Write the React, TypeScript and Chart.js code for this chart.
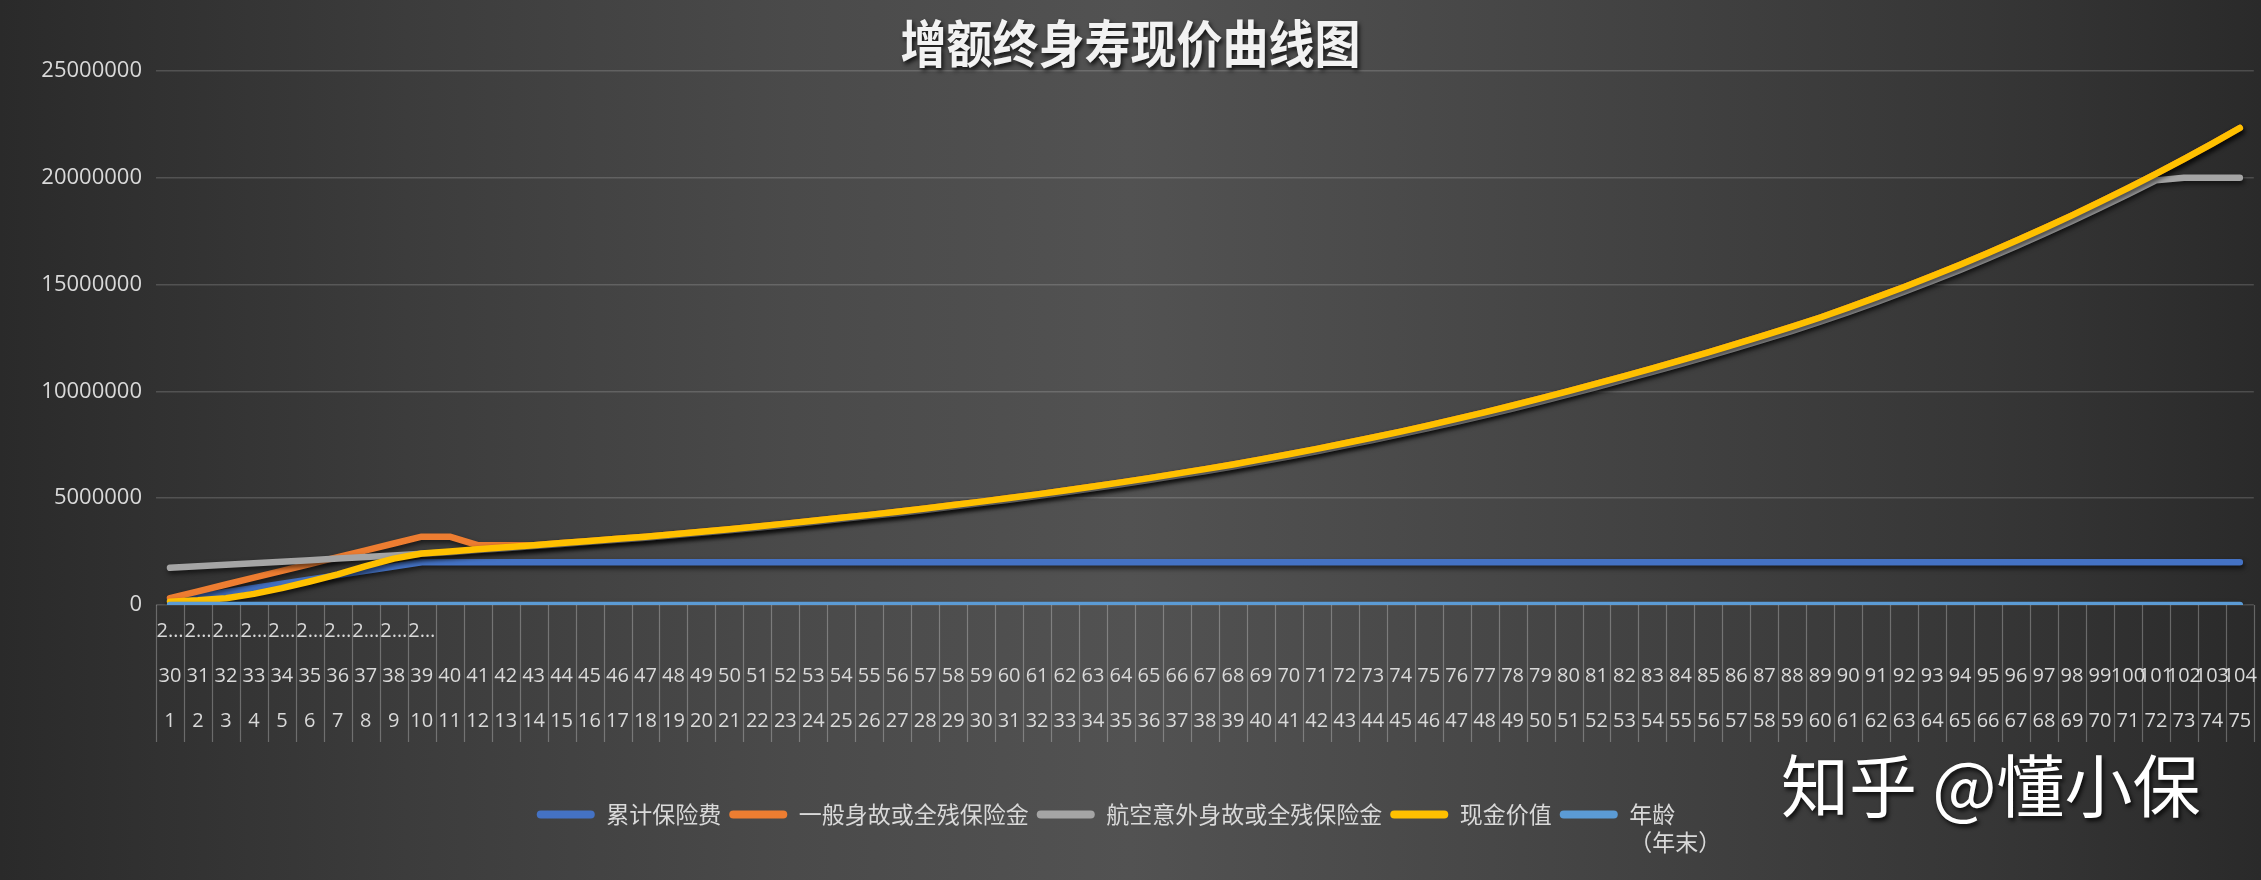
import React, { useEffect, useRef } from "react";
import { Chart, registerables } from "chart.js";

Chart.register(...registerables);

const chartTitle = "增额终身寿现价曲线图";
const watermark = "知乎 @懂小保";

const seriesNames = ["累计保险费", "一般身故或全残保险金", "航空意外身故或全残保险金", "现金价值", "年龄（年末）"];
const seriesColors = ["#4472C4", "#ED7D31", "#A5A5A5", "#FFC000", "#5B9BD5"];
const lastLegendFirstLine = "年龄";
const lastLegendSecondLine = "（年末）";

const dateLabels = ["2…", "2…", "2…", "2…", "2…", "2…", "2…", "2…", "2…", "2…"];

const policyYears = [
  1, 2, 3, 4, 5, 6, 7, 8, 9, 10, 11, 12, 13, 14, 15, 16, 17, 18, 19, 20, 21, 22, 23, 24, 25,
  26, 27, 28, 29, 30, 31, 32, 33, 34, 35, 36, 37, 38, 39, 40, 41, 42, 43, 44, 45, 46, 47, 48, 49, 50,
  51, 52, 53, 54, 55, 56, 57, 58, 59, 60, 61, 62, 63, 64, 65, 66, 67, 68, 69, 70, 71, 72, 73, 74, 75,
];

const ages = [
  30, 31, 32, 33, 34, 35, 36, 37, 38, 39, 40, 41, 42, 43, 44, 45, 46, 47, 48, 49, 50, 51, 52, 53, 54,
  55, 56, 57, 58, 59, 60, 61, 62, 63, 64, 65, 66, 67, 68, 69, 70, 71, 72, 73, 74, 75, 76, 77, 78, 79,
  80, 81, 82, 83, 84, 85, 86, 87, 88, 89, 90, 91, 92, 93, 94, 95, 96, 97, 98, 99, 100, 101, 102, 103, 104,
];

const premiumPaid = [
  200000, 400000, 600000, 800000, 1000000, 1200000, 1400000, 1600000, 1800000, 2000000,
  2000000, 2000000, 2000000, 2000000, 2000000, 2000000, 2000000, 2000000, 2000000, 2000000,
  2000000, 2000000, 2000000, 2000000, 2000000, 2000000, 2000000, 2000000, 2000000, 2000000,
  2000000, 2000000, 2000000, 2000000, 2000000, 2000000, 2000000, 2000000, 2000000, 2000000,
  2000000, 2000000, 2000000, 2000000, 2000000, 2000000, 2000000, 2000000, 2000000, 2000000,
  2000000, 2000000, 2000000, 2000000, 2000000, 2000000, 2000000, 2000000, 2000000, 2000000,
  2000000, 2000000, 2000000, 2000000, 2000000, 2000000, 2000000, 2000000, 2000000, 2000000,
  2000000, 2000000, 2000000, 2000000, 2000000,
];

const deathBenefit = [
  320000, 640000, 960000, 1280000, 1600000, 1920000, 2240000, 2560000, 2880000, 3200000,
  3200000, 2800000, 2800000, 2800000, 2900000, 3000000, 3100000, 3200000, 3310000, 3430000,
  3550000, 3680000, 3810000, 3940000, 4080000, 4220000, 4370000, 4520000, 4680000, 4840000,
  5010000, 5180000, 5360000, 5550000, 5740000, 5940000, 6150000, 6360000, 6580000, 6820000,
  7060000, 7310000, 7570000, 7840000, 8120000, 8410000, 8710000, 9020000, 9340000, 9670000,
  10010000, 10360000, 10720000, 11080000, 11450000, 11830000, 12220000, 12620000, 13030000, 13460000,
  13920000, 14400000, 14890000, 15400000, 15930000, 16480000, 17050000, 17640000, 18240000, 18870000,
  19520000, 20180000, 20870000, 21590000, 22330000,
];

const airAccidentBenefit = [
  1740000, 1810000, 1880000, 1960000, 2030000, 2100000, 2180000, 2250000, 2320000, 2400000,
  2470000, 2570000, 2660000, 2760000, 2860000, 2960000, 3050000, 3150000, 3260000, 3380000,
  3500000, 3620000, 3750000, 3880000, 4020000, 4160000, 4300000, 4450000, 4610000, 4770000,
  4930000, 5100000, 5280000, 5470000, 5650000, 5850000, 6060000, 6260000, 6480000, 6720000,
  6950000, 7200000, 7460000, 7720000, 8000000, 8280000, 8580000, 8880000, 9200000, 9520000,
  9860000, 10200000, 10560000, 10910000, 11280000, 11650000, 12040000, 12430000, 12830000, 13260000,
  13710000, 14180000, 14670000, 15170000, 15690000, 16230000, 16790000, 17380000, 17970000, 18590000,
  19230000, 19880000, 20000000, 20000000, 20000000,
];

const cashValue = [
  150000, 220000, 320000, 520000, 790000, 1100000, 1430000, 1820000, 2170000, 2410000,
  2510000, 2610000, 2700000, 2800000, 2900000, 3000000, 3100000, 3200000, 3310000, 3430000,
  3550000, 3680000, 3810000, 3940000, 4080000, 4220000, 4370000, 4520000, 4680000, 4840000,
  5010000, 5180000, 5360000, 5550000, 5740000, 5940000, 6150000, 6360000, 6580000, 6820000,
  7060000, 7310000, 7570000, 7840000, 8120000, 8410000, 8710000, 9020000, 9340000, 9670000,
  10010000, 10360000, 10720000, 11080000, 11450000, 11830000, 12220000, 12620000, 13030000, 13460000,
  13920000, 14400000, 14890000, 15400000, 15930000, 16480000, 17050000, 17640000, 18240000, 18870000,
  19520000, 20180000, 20870000, 21590000, 22330000,
];

const yTickValues = [0, 5000000, 10000000, 15000000, 20000000, 25000000];

// Last legend entry: first line drawn by the legend, width reserved for the wider second line.
const lastLegendText: any = Object.assign([lastLegendFirstLine], {
  toString() {
    return lastLegendSecondLine;
  },
});
const legendTexts: any[] = [seriesNames[0], seriesNames[1], seriesNames[2], seriesNames[3], lastLegendText];

const LEGEND_FONT_SIZE = 23;
const LEGEND_BOX_WIDTH = 58;

const shadowPlugin = {
  id: "lineShadow",
  beforeDatasetDraw(chart: any) {
    const ctx = chart.ctx;
    ctx.save();
    ctx.shadowColor = "rgba(0,0,0,0.6)";
    ctx.shadowBlur = 5;
    ctx.shadowOffsetX = 1.5;
    ctx.shadowOffsetY = 3;
  },
  afterDatasetDraw(chart: any) {
    chart.ctx.restore();
  },
};

const separatorPlugin = {
  id: "categorySeparators",
  afterDraw(chart: any) {
    const xs = chart.scales.x;
    const ctx = chart.ctx;
    const n = chart.data.labels.length;
    const top = chart.chartArea.bottom;
    ctx.save();
    ctx.strokeStyle = "rgba(255,255,255,0.28)";
    ctx.lineWidth = 1.2;
    for (let i = 0; i <= n; i++) {
      let px: number;
      if (i === 0) px = xs.left;
      else if (i === n) px = xs.right;
      else px = (xs.getPixelForValue(i - 1) + xs.getPixelForValue(i)) / 2;
      px = Math.round(px) + 0.5;
      ctx.beginPath();
      ctx.moveTo(px, top);
      ctx.lineTo(px, top + 137);
      ctx.stroke();
    }
    ctx.restore();
  },
};

const textPlugin = {
  id: "titleAndMark",
  afterDraw(chart: any) {
    const ctx = chart.ctx;

    const lg = chart.legend;
    if (lg && lg.legendHitBoxes && lg.legendHitBoxes[4]) {
      const hb = lg.legendHitBoxes[4];
      ctx.save();
      ctx.font = `${LEGEND_FONT_SIZE}px "Noto Sans CJK SC"`;
      ctx.fillStyle = "#d9d9d9";
      ctx.textAlign = "left";
      ctx.textBaseline = "middle";
      ctx.fillText(
        lastLegendSecondLine,
        hb.left + LEGEND_BOX_WIDTH + LEGEND_FONT_SIZE / 2,
        hb.top + hb.height / 2 + LEGEND_FONT_SIZE * 1.2
      );
      ctx.restore();
    }

    ctx.save();
    ctx.translate(chart.width / 2, 44);
    ctx.scale(1, 1.1);
    ctx.font = 'bold 46px "Noto Sans CJK SC"';
    ctx.textAlign = "center";
    ctx.textBaseline = "middle";
    ctx.shadowColor = "rgba(0,0,0,0.75)";
    ctx.shadowOffsetX = 2;
    ctx.shadowOffsetY = 3;
    ctx.shadowBlur = 4;
    ctx.fillStyle = "#f2f2f2";
    ctx.fillText(chartTitle, 0, 0);
    ctx.restore();

    ctx.save();
    ctx.font = '68px "Noto Sans CJK SC"';
    ctx.textAlign = "left";
    ctx.textBaseline = "middle";
    ctx.fillStyle = "#ffffff";
    ctx.shadowColor = "rgba(0,0,0,0.8)";
    ctx.shadowOffsetX = 2;
    ctx.shadowOffsetY = 3;
    ctx.shadowBlur = 4;
    ctx.fillText(watermark, 1781, 786);
    ctx.restore();
  },
};

export default function App() {
  const ref = useRef<HTMLCanvasElement | null>(null);

  useEffect(() => {
    const canvas = ref.current;
    if (!canvas) return;
    const labels = policyYears.map((y, i) => [dateLabels[i] ?? "", String(ages[i]), String(y)]);
    const values = [premiumPaid, deathBenefit, airAccidentBenefit, cashValue, ages];
    const datasets = values.map((d, i) => ({
      label: seriesNames[i],
      data: d,
      borderColor: seriesColors[i],
      backgroundColor: seriesColors[i],
      borderWidth: 6.5,
      pointRadius: 0,
      pointHoverRadius: 0,
      tension: 0,
      borderCapStyle: "round" as const,
      borderJoinStyle: "round" as const,
      fill: false,
      order: 5 - i,
    }));

    const chart = new Chart(canvas, {
      type: "line",
      data: { labels, datasets },
      options: {
        responsive: false,
        animation: false,
        events: [],
        layout: { padding: { top: 71, left: 0, right: 3, bottom: 44 } },
        scales: {
          x: {
            offset: true,
            grid: { display: false, drawTicks: false },
            border: { display: false },
            ticks: {
              color: "#d9d9d9",
              font: { family: "Open Sans", size: 20, lineHeight: 2.25 },
              padding: 4,
              autoSkip: false,
              maxRotation: 0,
              minRotation: 0,
            },
            afterFit: (s: any) => {
              s.height += 47;
            },
          },
          y: {
            min: 0,
            max: 25000000,
            afterFit: (s: any) => {
              s.width = 156;
            },
            afterBuildTicks: (s: any) => {
              s.ticks = yTickValues.map((v) => ({ value: v }));
            },
            grid: { color: "rgba(255,255,255,0.16)", lineWidth: 1.5, drawTicks: false },
            border: { display: false },
            ticks: {
              color: "#d9d9d9",
              font: { family: "Open Sans", size: 22 },
              padding: 14,
              callback: (v: any) => String(v),
            },
          },
        },
        plugins: {
          title: { display: false },
          tooltip: { enabled: false },
          legend: {
            display: true,
            position: "bottom",
            labels: {
              color: "#d9d9d9",
              font: { family: "Noto Sans CJK SC", size: LEGEND_FONT_SIZE, lineHeight: 1.2 },
              boxWidth: LEGEND_BOX_WIDTH,
              boxHeight: 8,
              padding: 8,
              useBorderRadius: true,
              borderRadius: 4,
              sort: (a: any, b: any) => a.datasetIndex - b.datasetIndex,
              generateLabels: (c: any) =>
                c.data.datasets.map((ds: any, i: number) => ({
                  text: legendTexts[i],
                  fillStyle: ds.borderColor,
                  strokeStyle: ds.borderColor,
                  lineWidth: 0,
                  hidden: false,
                  datasetIndex: i,
                  fontColor: "#d9d9d9",
                  borderRadius: 4,
                })),
            },
          },
        },
      } as any,
      plugins: [shadowPlugin, separatorPlugin, textPlugin],
    });
    return () => chart.destroy();
  }, []);

  return (
    <div
      style={{
        position: "absolute",
        left: 0,
        top: 0,
        width: 2261,
        height: 880,
        overflow: "hidden",
        background:
          "linear-gradient(to right, #2a2a2a 0%, #3c3c3c 18%, #4a4a4a 35%, #525252 50%, #474747 66%, #363636 88%, #2a2a2a 100%)",
      }}
    >
      <canvas ref={ref} width={2261} height={880} style={{ display: "block", width: 2261, height: 880 }} />
    </div>
  );
}
